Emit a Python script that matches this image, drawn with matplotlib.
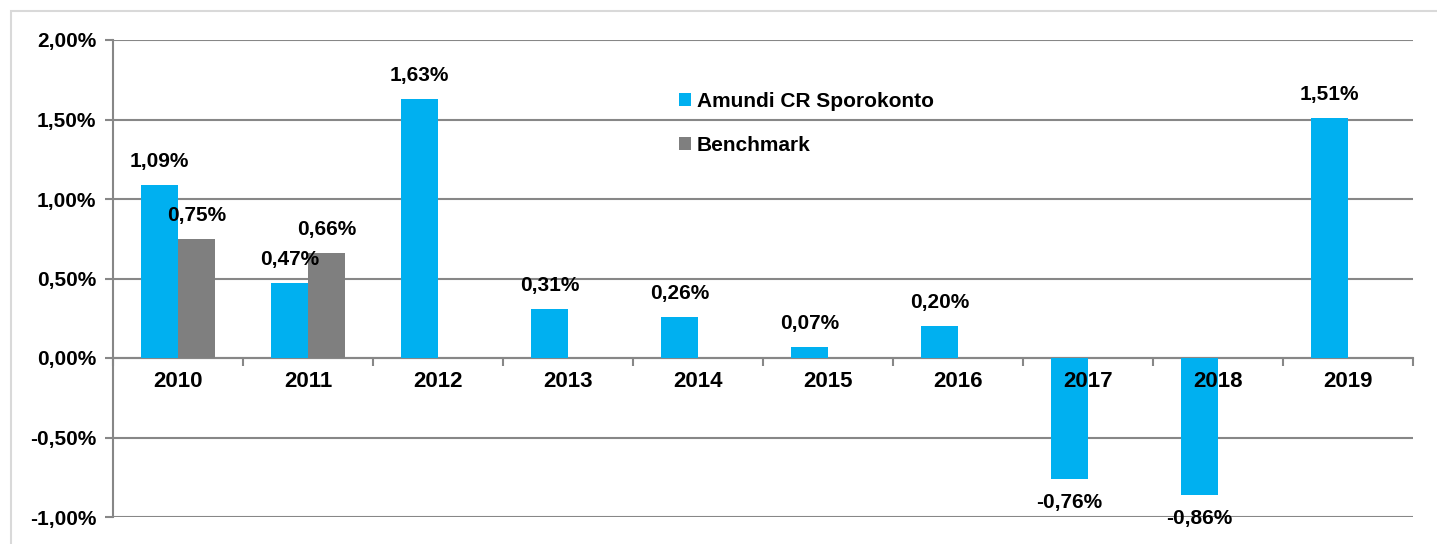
import numpy as np
import matplotlib.pyplot as plt
from matplotlib.patches import Rectangle

years = ["2010", "2011", "2012", "2013", "2014", "2015", "2016", "2017", "2018", "2019"]
fund = [1.09, 0.47, 1.63, 0.31, 0.26, 0.07, 0.20, -0.76, -0.86, 1.51]
bench = [0.75, 0.66]
fund_name = "Amundi CR Sporokonto"
bench_name = "Benchmark"
yticks = [-1.0, -0.5, 0.0, 0.5, 1.0, 1.5, 2.0]

BLUE = "#00B0F0"
GRAY = "#7F7F7F"
LINE = "#878787"


def pct(v):
    return f"{v:.2f}%".replace(".", ",")


if __name__ == "__main__":
    plt.rcParams["font.family"] = ["Liberation Sans", "DejaVu Sans"]
    plt.rcParams["font.weight"] = "bold"

    W, H = 1437, 544
    fig = plt.figure(figsize=(W / 100, H / 100), dpi=100)
    fig.patches.append(Rectangle((11 / W, -0.1), 1.2, 1.1 - 11 / H, transform=fig.transFigure,
                                 fill=False, edgecolor="#D9D9D9", linewidth=1.5))
    ax = fig.add_axes([113 / W, (H - 517) / H, 1300 / W, 477 / H])

    x = np.arange(len(years))
    w = 0.285
    b1 = ax.bar(x - w / 2, fund, w, color=BLUE, zorder=3, label=fund_name)
    b2 = ax.bar(x[:len(bench)] + w / 2, bench, w, color=GRAY, zorder=3, label=bench_name)

    for bars, vals in ((b1, fund), (b2, bench)):
        for r, v in zip(bars, vals):
            off = 17 if v >= 0 else -17
            ax.annotate(pct(v), (r.get_x() + r.get_width() / 2, v), xytext=(0, off),
                        textcoords="offset points", ha="center", va="center",
                        fontsize=15, fontweight="bold", zorder=5)

    # year labels sit on the zero line, drawn above the bars
    for xi, yr in zip(x, years):
        ax.annotate(yr, (xi, 0), xytext=(0, -17), textcoords="offset points",
                    ha="center", va="center", fontsize=16, fontweight="bold", zorder=6)

    ax.set_xlim(-0.5, len(years) - 0.5)
    ax.set_ylim(-1.0, 2.0)
    ax.set_yticks(yticks)
    ax.set_yticklabels([pct(v) for v in yticks])
    ax.yaxis.grid(True, color=LINE, linewidth=1.5, zorder=0)

    ax.set_xticks(np.arange(len(years) + 1) - 0.5)
    ax.set_xticklabels([])
    ax.tick_params(axis="x", length=6, width=1.5, color=LINE, direction="out")
    ax.tick_params(axis="y", length=6, width=1.5, color=LINE, pad=6, labelsize=15)

    for s in ("top", "right"):
        ax.spines[s].set_visible(False)
    ax.spines["bottom"].set_position(("data", 0))
    ax.spines["bottom"].set_color(LINE)
    ax.spines["bottom"].set_linewidth(1.5)
    ax.spines["left"].set_color(LINE)
    ax.spines["left"].set_linewidth(1.5)

    ax.legend(loc="upper left", bbox_to_anchor=(0.421, 0.93), frameon=False,
              handlelength=0.55, handleheight=0.55, handletextpad=0.3,
              labelspacing=1.2, prop={"size": 15, "weight": "bold"})

    plt.savefig("out.png", dpi=100)
